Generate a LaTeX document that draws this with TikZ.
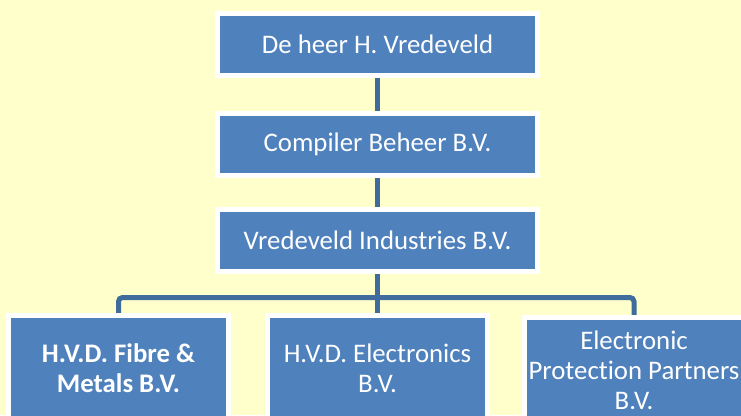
\documentclass[tikz,border=0pt]{standalone}
\usepackage{fontspec}
\setmainfont{Carlito}[Ligatures=NoCommon]
\usetikzlibrary{backgrounds}
\definecolor{bg}{HTML}{FFFFCC}
\definecolor{boxblue}{HTML}{4F81BD}
\definecolor{linkblue}{HTML}{3F6C9D}
\begin{document}
\begin{tikzpicture}[x=1pt,y=-1pt,
  box/.style={draw=white, line width=5pt, fill=boxblue, text=white, inner sep=0pt,
    align=center, font=\fontsize{26.8}{30}\selectfont},
  topbox/.style={box, minimum width=320pt, minimum height=62pt},
  botbox/.style={box, minimum width=220pt, minimum height=105pt},
  link/.style={draw=linkblue, line width=5pt, rounded corners=4pt}]
\useasboundingbox (0,0) rectangle (741,415);
\clip (0,0) rectangle (741,415);

\node[topbox] (b1) at (377.5,44.5) {De heer H. Vredeveld};
\node[topbox] (b2) at (377.5,144) {Compiler Beheer B.V.};
\node[topbox] (b3) at (377.5,240.5) {Vredeveld Industries B.V.};

\node[botbox, font=\fontsize{26.8}{30}\selectfont\bfseries] (bA) at (118.5,368) {H.V.D. Fibre \&\\Metals B.V.};
\node[botbox] (bB) at (377.5,368) {H.V.D. Electronics\\B.V.};
\node[botbox] (bC) at (634,370) {Electronic\\Protection Partners\\B.V.};

\coordinate (bus) at (377.5,297.5);

\begin{scope}[on background layer]
\fill[bg] (0,0) rectangle (741,415);
\draw[link] (b1.south) -- (b2.north);
\draw[link] (b2.south) -- (b3.north);
\draw[link] (b3.south) -- (bB.north);
\draw[link] (bus) -| (bA.north);
\draw[link] (bus) -| (bC.north);
\end{scope}
\end{tikzpicture}
\end{document}
